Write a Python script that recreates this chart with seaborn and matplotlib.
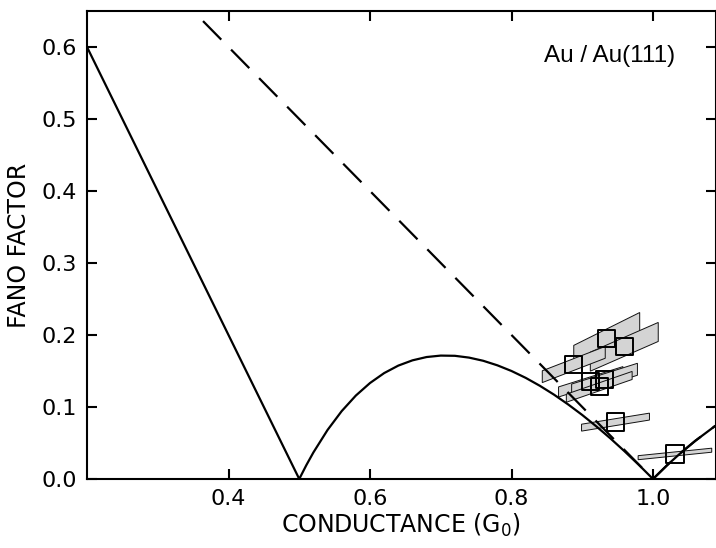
import matplotlib
matplotlib.use("Agg")
import matplotlib.pyplot as plt
from matplotlib.patches import Polygon
import seaborn as sns
import pandas as pd
import numpy as np

# ---- data ----
# solid curve (minimum Fano factor, spin-split channels)
solid_g = [0.20, 0.50, 0.51, 0.52, 0.54, 0.56, 0.58, 0.60, 0.62, 0.64, 0.66, 0.68, 0.70,
           0.72, 0.74, 0.76, 0.78, 0.80, 0.82, 0.84, 0.86, 0.88, 0.90, 0.92, 0.94, 0.96,
           0.98, 1.00, 1.02, 1.04, 1.06, 1.088]
solid_f = [0.600, 0.000, 0.0192, 0.0369, 0.0681, 0.0943, 0.1159, 0.1333, 0.1471, 0.1575,
           0.1648, 0.1694, 0.1714, 0.1711, 0.1686, 0.1642, 0.1579, 0.1500, 0.1405, 0.1295,
           0.1172, 0.1036, 0.0889, 0.0730, 0.0562, 0.0383, 0.0196, 0.000, 0.0192, 0.0369,
           0.0532, 0.0738]

# dashed curve (spin-degenerate channels)
dashed_g = [0.364, 1.00, 1.02, 1.04, 1.06, 1.088]
dashed_f = [0.636, 0.000, 0.0192, 0.0369, 0.0532, 0.0738]

# measured points (squares) and their parallelogram error regions
pt_g = [0.9346, 0.9594, 0.888, 0.912, 0.9315, 0.924, 0.947, 1.031]
pt_f = [0.195, 0.1836, 0.159, 0.135, 0.138, 0.128, 0.079, 0.0348]
err_halfwidth = [0.0466, 0.048, 0.0445, 0.0455, 0.0465, 0.0465, 0.048, 0.052]
err_slope = [0.49, 0.43, 0.38, 0.31, 0.31, 0.34, 0.16, 0.10]
err_halfheight = [0.0134, 0.0132, 0.0082, 0.0070, 0.0083, 0.0056, 0.0048, 0.0028]

x_ticks = [0.4, 0.6, 0.8, 1.0]
y_ticks = [0.0, 0.1, 0.2, 0.3, 0.4, 0.5, 0.6]
label_text = "Au / Au(111)"

# ---- plotting ----
sns.set_style("ticks")
plt.rcParams['font.family'] = ['DejaVu Sans']
plt.rcParams['text.color'] = 'black'
plt.rcParams['axes.labelcolor'] = 'black'
plt.rcParams['xtick.color'] = 'black'
plt.rcParams['ytick.color'] = 'black'

fig = plt.figure(figsize=(7.16, 5.48), dpi=100)
ax = fig.add_axes([87 / 716, 1 - 479 / 548, (715.5 - 87) / 716, (479 - 11) / 548])

for g, f, hw, s, hh in zip(pt_g, pt_f, err_halfwidth, err_slope, err_halfheight):
    verts = [(g - hw, f - s * hw - hh), (g + hw, f + s * hw - hh),
             (g + hw, f + s * hw + hh), (g - hw, f - s * hw + hh)]
    ax.add_patch(Polygon(verts, closed=True, facecolor='#d4d4d4', edgecolor='#111111',
                         linewidth=0.7, zorder=2))

solid_df = pd.DataFrame({"G": solid_g, "F": solid_f})
dashed_df = pd.DataFrame({"G": dashed_g, "F": dashed_f})
sns.lineplot(data=solid_df, x="G", y="F", estimator=None, sort=False, color='black',
             linewidth=1.6, ax=ax, zorder=3)
sns.lineplot(data=dashed_df, x="G", y="F", estimator=None, sort=False, color='black',
             linewidth=1.6, linestyle=(0, (11.7, 6.3)), ax=ax, zorder=3)

pts_df = pd.DataFrame({"G": pt_g, "F": pt_f})
sns.scatterplot(data=pts_df, x="G", y="F", marker='s', s=155, facecolor='none',
                edgecolor='black', linewidth=1.4, ax=ax, zorder=4)

ax.set_xlim(0.2, 0.2 + (715.5 - 87) / 707.5)
ax.set_ylim(0, 0.65)
ax.set_xticks(x_ticks)
ax.set_xticklabels([f"{v:.1f}" for v in x_ticks])
ax.set_yticks(y_ticks)
ax.set_yticklabels([f"{v:.1f}" for v in y_ticks])
ax.tick_params(direction='in', top=True, right=True, length=7, width=1.5,
               labelsize=16, pad=7, colors='black')
for sp in ax.spines.values():
    sp.set_visible(True)
    sp.set_linewidth(1.5)
    sp.set_color('black')

ax.set_xlabel("CONDUCTANCE (G$_0$)", fontsize=17, labelpad=2, color='black')
ax.set_ylabel("FANO FACTOR", fontsize=17, labelpad=8, color='black')
ax.text(0.9385, 0.587, label_text, fontsize=17.5, family=['Liberation Sans'],
        ha='center', va='center', color='black')

fig.savefig("out.png", dpi=100)
